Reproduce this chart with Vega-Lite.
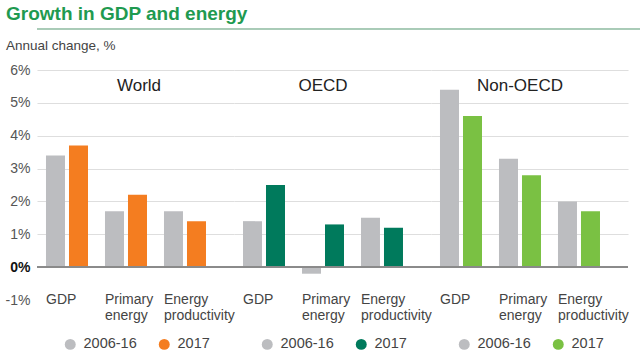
{
  "$schema": "https://vega.github.io/schema/vega-lite/v6.json",
  "background": "white",
  "padding": {"left": 0, "top": 5, "right": 0, "bottom": 0},
  "config": {"font": "Liberation Sans", "view": {"stroke": null}},
  "title": {"text": "Growth in GDP and energy", "anchor": "start", "dx": 6, "fontSize": 19, "fontWeight": "bold", "color": "#1f9a50", "offset": 4},
  "data": {"values": [
    {"region": "World", "category": "GDP", "period": "2006-16", "value": 3.4},
    {"region": "World", "category": "GDP", "period": "2017", "value": 3.7},
    {"region": "World", "category": "Primary energy", "period": "2006-16", "value": 1.7},
    {"region": "World", "category": "Primary energy", "period": "2017", "value": 2.2},
    {"region": "World", "category": "Energy productivity", "period": "2006-16", "value": 1.7},
    {"region": "World", "category": "Energy productivity", "period": "2017", "value": 1.4},
    {"region": "OECD", "category": "GDP", "period": "2006-16", "value": 1.4},
    {"region": "OECD", "category": "GDP", "period": "2017", "value": 2.5},
    {"region": "OECD", "category": "Primary energy", "period": "2006-16", "value": -0.2},
    {"region": "OECD", "category": "Primary energy", "period": "2017", "value": 1.3},
    {"region": "OECD", "category": "Energy productivity", "period": "2006-16", "value": 1.5},
    {"region": "OECD", "category": "Energy productivity", "period": "2017", "value": 1.2},
    {"region": "Non-OECD", "category": "GDP", "period": "2006-16", "value": 5.4},
    {"region": "Non-OECD", "category": "GDP", "period": "2017", "value": 4.6},
    {"region": "Non-OECD", "category": "Primary energy", "period": "2006-16", "value": 3.3},
    {"region": "Non-OECD", "category": "Primary energy", "period": "2017", "value": 2.8},
    {"region": "Non-OECD", "category": "Energy productivity", "period": "2006-16", "value": 2.0},
    {"region": "Non-OECD", "category": "Energy productivity", "period": "2017", "value": 1.7}
  ]},
  "spacing": 8,
  "vconcat": [
    {
      "width": 640, "height": 1,
      "mark": {"type": "rule", "color": "#a9cbb7", "strokeWidth": 1},
      "encoding": {"y": {"datum": 0, "scale": {"domain": [0, 1]}, "axis": null}}
    },
    {
      "title": {"text": "Annual change, %", "anchor": "start", "dx": 6, "fontSize": 13.5, "fontWeight": "normal", "color": "#444", "offset": 11},
      "bounds": "flush",
      "spacing": 0,
      "resolve": {"scale": {"color": "independent", "x": "independent", "y": "independent"}, "legend": {"color": "independent"}},
      "hconcat": [
        {
          "width": 197, "height": 230,
          "transform": [{"filter": "datum.region === 'World'"}],
          "layer": [
            {
              "mark": {"type": "bar"},
              "encoding": {
                "x": {"field": "category", "type": "nominal", "sort": ["GDP", "Primary energy", "Energy productivity"], "scale": {"paddingInner": 0.288, "paddingOuter": 0.3136, "align": 0.243}, "axis": null},
                "xOffset": {"field": "period", "type": "nominal", "scale": {"paddingInner": 0.174, "paddingOuter": 0}},
                "y": {"field": "value", "type": "quantitative", "scale": {"domain": [-1, 6], "nice": false, "zero": false},
                  "axis": {"values": [-1, 0, 1, 2, 3, 4, 5, 6], "labelExpr": "datum.value + '%'", "labelOverlap": false, "title": null, "ticks": false, "domain": false, "labelPadding": 7, "minExtent": 37, "labelFontSize": 14, "labelColor": {"condition": {"test": "datum.value === 0", "value": "#111"}, "value": "#555"}, "labelFontWeight": {"condition": {"test": "datum.value === 0", "value": "bold"}, "value": "normal"}, "grid": true, "gridColor": "#dedede", "gridOpacity": {"condition": {"test": "datum.value <= 0", "value": 0}, "value": 1}, "gridWidth": 1.2}},
                "color": {"field": "period", "type": "nominal", "scale": {"domain": ["2006-16", "2017"], "range": ["#bcbdc0", "#f47d20"]},
                  "legend": {"orient": "none", "legendX": 26, "legendY": 267, "direction": "horizontal", "title": null, "symbolType": "circle", "symbolSize": 120, "symbolStrokeWidth": 0, "labelFontSize": 14.5, "labelColor": "#444", "labelOffset": 6, "columnPadding": 20}}
              }
            },
            {"mark": {"type": "rule", "color": "#8a8a8a", "strokeWidth": 1.2}, "encoding": {"y": {"datum": 0, "type": "quantitative",
                  "axis": {"values": [-1, 0, 1, 2, 3, 4, 5, 6], "labelExpr": "datum.value + '%'", "labelOverlap": false, "title": null, "ticks": false, "domain": false, "labelPadding": 7, "minExtent": 37, "labelFontSize": 14, "labelColor": {"condition": {"test": "datum.value === 0", "value": "#111"}, "value": "#555"}, "labelFontWeight": {"condition": {"test": "datum.value === 0", "value": "bold"}, "value": "normal"}, "grid": true, "gridColor": "#dedede", "gridOpacity": {"condition": {"test": "datum.value <= 0", "value": 0}, "value": 1}, "gridWidth": 1.2}}}},
            {
              "transform": [{"filter": "datum.period === '2006-16'"}],
              "mark": {"type": "text", "align": "left", "baseline": "middle", "lineBreak": " ", "fontSize": 14, "lineHeight": 16, "color": "#444"},
              "encoding": {"x": {"field": "category", "type": "nominal", "bandPosition": 0, "sort": ["GDP", "Primary energy", "Energy productivity"], "axis": null}, "y": {"datum": -1, "type": "quantitative",
                  "axis": {"values": [-1, 0, 1, 2, 3, 4, 5, 6], "labelExpr": "datum.value + '%'", "labelOverlap": false, "title": null, "ticks": false, "domain": false, "labelPadding": 7, "minExtent": 37, "labelFontSize": 14, "labelColor": {"condition": {"test": "datum.value === 0", "value": "#111"}, "value": "#555"}, "labelFontWeight": {"condition": {"test": "datum.value === 0", "value": "bold"}, "value": "normal"}, "grid": true, "gridColor": "#dedede", "gridOpacity": {"condition": {"test": "datum.value <= 0", "value": 0}, "value": 1}, "gridWidth": 1.2}}, "text": {"field": "category"}}
            },
            {
              "transform": [{"filter": "datum.period === '2006-16' && datum.category === 'GDP'"}],
              "mark": {"type": "text", "align": "center", "baseline": "middle", "fontSize": 17, "color": "#222", "dx": 13},
              "encoding": {"x": {"datum": "Primary energy", "axis": null}, "y": {"datum": 5.5, "type": "quantitative",
                  "axis": {"values": [-1, 0, 1, 2, 3, 4, 5, 6], "labelExpr": "datum.value + '%'", "labelOverlap": false, "title": null, "ticks": false, "domain": false, "labelPadding": 7, "minExtent": 37, "labelFontSize": 14, "labelColor": {"condition": {"test": "datum.value === 0", "value": "#111"}, "value": "#555"}, "labelFontWeight": {"condition": {"test": "datum.value === 0", "value": "bold"}, "value": "normal"}, "grid": true, "gridColor": "#dedede", "gridOpacity": {"condition": {"test": "datum.value <= 0", "value": 0}, "value": 1}, "gridWidth": 1.2}}, "text": {"field": "region"}}
            }
          ]
        },
        {
          "width": 197, "height": 230,
          "transform": [{"filter": "datum.region === 'OECD'"}],
          "layer": [
            {
              "mark": {"type": "bar"},
              "encoding": {
                "x": {"field": "category", "type": "nominal", "sort": ["GDP", "Primary energy", "Energy productivity"], "scale": {"paddingInner": 0.288, "paddingOuter": 0.3136, "align": 0.243}, "axis": null},
                "xOffset": {"field": "period", "type": "nominal", "scale": {"paddingInner": 0.174, "paddingOuter": 0}},
                "y": {"field": "value", "type": "quantitative", "scale": {"domain": [-1, 6], "nice": false, "zero": false},
                  "axis": {"values": [-1, 0, 1, 2, 3, 4, 5, 6], "labels": false, "title": null, "ticks": false, "domain": false, "minExtent": 0, "maxExtent": 0, "grid": true, "gridColor": "#dedede", "gridOpacity": {"condition": {"test": "datum.value <= 0", "value": 0}, "value": 1}, "gridWidth": 1.2}},
                "color": {"field": "period", "type": "nominal", "scale": {"domain": ["2006-16", "2017"], "range": ["#bcbdc0", "#007a5c"]},
                  "legend": {"orient": "none", "legendX": 26, "legendY": 267, "direction": "horizontal", "title": null, "symbolType": "circle", "symbolSize": 120, "symbolStrokeWidth": 0, "labelFontSize": 14.5, "labelColor": "#444", "labelOffset": 6, "columnPadding": 20}}
              }
            },
            {"mark": {"type": "rule", "color": "#8a8a8a", "strokeWidth": 1.2}, "encoding": {"y": {"datum": 0, "type": "quantitative",
                  "axis": {"values": [-1, 0, 1, 2, 3, 4, 5, 6], "labels": false, "title": null, "ticks": false, "domain": false, "minExtent": 0, "maxExtent": 0, "grid": true, "gridColor": "#dedede", "gridOpacity": {"condition": {"test": "datum.value <= 0", "value": 0}, "value": 1}, "gridWidth": 1.2}}}},
            {
              "transform": [{"filter": "datum.period === '2006-16'"}],
              "mark": {"type": "text", "align": "left", "baseline": "middle", "lineBreak": " ", "fontSize": 14, "lineHeight": 16, "color": "#444"},
              "encoding": {"x": {"field": "category", "type": "nominal", "bandPosition": 0, "sort": ["GDP", "Primary energy", "Energy productivity"], "axis": null}, "y": {"datum": -1, "type": "quantitative",
                  "axis": {"values": [-1, 0, 1, 2, 3, 4, 5, 6], "labels": false, "title": null, "ticks": false, "domain": false, "minExtent": 0, "maxExtent": 0, "grid": true, "gridColor": "#dedede", "gridOpacity": {"condition": {"test": "datum.value <= 0", "value": 0}, "value": 1}, "gridWidth": 1.2}}, "text": {"field": "category"}}
            },
            {
              "transform": [{"filter": "datum.period === '2006-16' && datum.category === 'GDP'"}],
              "mark": {"type": "text", "align": "center", "baseline": "middle", "fontSize": 17, "color": "#222", "dx": 0},
              "encoding": {"x": {"datum": "Primary energy", "axis": null}, "y": {"datum": 5.5, "type": "quantitative",
                  "axis": {"values": [-1, 0, 1, 2, 3, 4, 5, 6], "labels": false, "title": null, "ticks": false, "domain": false, "minExtent": 0, "maxExtent": 0, "grid": true, "gridColor": "#dedede", "gridOpacity": {"condition": {"test": "datum.value <= 0", "value": 0}, "value": 1}, "gridWidth": 1.2}}, "text": {"field": "region"}}
            }
          ]
        },
        {
          "width": 197, "height": 230,
          "transform": [{"filter": "datum.region === 'Non-OECD'"}],
          "layer": [
            {
              "mark": {"type": "bar"},
              "encoding": {
                "x": {"field": "category", "type": "nominal", "sort": ["GDP", "Primary energy", "Energy productivity"], "scale": {"paddingInner": 0.288, "paddingOuter": 0.3136, "align": 0.243}, "axis": null},
                "xOffset": {"field": "period", "type": "nominal", "scale": {"paddingInner": 0.174, "paddingOuter": 0}},
                "y": {"field": "value", "type": "quantitative", "scale": {"domain": [-1, 6], "nice": false, "zero": false},
                  "axis": {"values": [-1, 0, 1, 2, 3, 4, 5, 6], "labels": false, "title": null, "ticks": false, "domain": false, "minExtent": 0, "maxExtent": 0, "grid": true, "gridColor": "#dedede", "gridOpacity": {"condition": {"test": "datum.value <= 0", "value": 0}, "value": 1}, "gridWidth": 1.2}},
                "color": {"field": "period", "type": "nominal", "scale": {"domain": ["2006-16", "2017"], "range": ["#bcbdc0", "#7ac143"]},
                  "legend": {"orient": "none", "legendX": 26, "legendY": 267, "direction": "horizontal", "title": null, "symbolType": "circle", "symbolSize": 120, "symbolStrokeWidth": 0, "labelFontSize": 14.5, "labelColor": "#444", "labelOffset": 6, "columnPadding": 20}}
              }
            },
            {"mark": {"type": "rule", "color": "#8a8a8a", "strokeWidth": 1.2}, "encoding": {"y": {"datum": 0, "type": "quantitative",
                  "axis": {"values": [-1, 0, 1, 2, 3, 4, 5, 6], "labels": false, "title": null, "ticks": false, "domain": false, "minExtent": 0, "maxExtent": 0, "grid": true, "gridColor": "#dedede", "gridOpacity": {"condition": {"test": "datum.value <= 0", "value": 0}, "value": 1}, "gridWidth": 1.2}}}},
            {
              "transform": [{"filter": "datum.period === '2006-16'"}],
              "mark": {"type": "text", "align": "left", "baseline": "middle", "lineBreak": " ", "fontSize": 14, "lineHeight": 16, "color": "#444"},
              "encoding": {"x": {"field": "category", "type": "nominal", "bandPosition": 0, "sort": ["GDP", "Primary energy", "Energy productivity"], "axis": null}, "y": {"datum": -1, "type": "quantitative",
                  "axis": {"values": [-1, 0, 1, 2, 3, 4, 5, 6], "labels": false, "title": null, "ticks": false, "domain": false, "minExtent": 0, "maxExtent": 0, "grid": true, "gridColor": "#dedede", "gridOpacity": {"condition": {"test": "datum.value <= 0", "value": 0}, "value": 1}, "gridWidth": 1.2}}, "text": {"field": "category"}}
            },
            {
              "transform": [{"filter": "datum.period === '2006-16' && datum.category === 'GDP'"}],
              "mark": {"type": "text", "align": "center", "baseline": "middle", "fontSize": 17, "color": "#222", "dx": 0},
              "encoding": {"x": {"datum": "Primary energy", "axis": null}, "y": {"datum": 5.5, "type": "quantitative",
                  "axis": {"values": [-1, 0, 1, 2, 3, 4, 5, 6], "labels": false, "title": null, "ticks": false, "domain": false, "minExtent": 0, "maxExtent": 0, "grid": true, "gridColor": "#dedede", "gridOpacity": {"condition": {"test": "datum.value <= 0", "value": 0}, "value": 1}, "gridWidth": 1.2}}, "text": {"field": "region"}}
            }
          ]
        }
      ]
    }
  ]
}
